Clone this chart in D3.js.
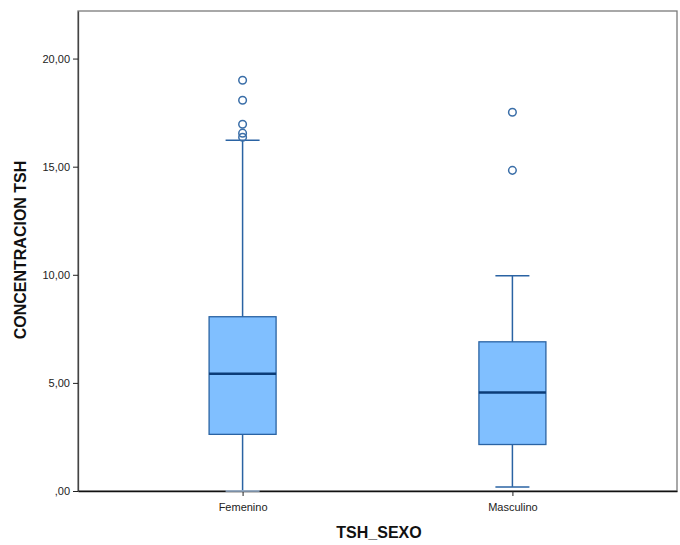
<!DOCTYPE html>
<html>
<head>
<meta charset="utf-8">
<script src="https://cdn.jsdelivr.net/npm/d3@7"></script>
<style>
  body { margin: 0; background: #fff; }
  text { font-family: Arial, "Liberation Sans", sans-serif; }
</style>
</head>
<body>
<svg width="680" height="545"></svg>
<script>
  // Data
  const categories = ["Femenino", "Masculino"];
  const q1 = [2.62, 2.15];
  const median = [5.42, 4.55];
  const q3 = [8.06, 6.90];
  const whiskerLow = [0.0, 0.19];
  const whiskerHigh = [16.22, 9.95];
  const outliers = [
    [19.0, 18.07, 16.96, 16.55, 16.36],
    [17.52, 14.83]
  ];
  const yTicks = [0, 5, 10, 15, 20];

  const width = 680, height = 545;
  const margin = {top: 11, right: 3, bottom: 54, left: 78};

  const svg = d3.select("svg");

  const x = d3.scalePoint()
      .domain(categories)
      .range([margin.left, width - margin.right])
      .padding(0.61);

  const y = d3.scaleLinear()
      .domain([0, 22.2])
      .range([height - margin.bottom, margin.top]);

  // Frame
  svg.append("rect")
      .attr("x", margin.left)
      .attr("y", margin.top)
      .attr("width", width - margin.right - margin.left)
      .attr("height", height - margin.bottom - margin.top)
      .attr("fill", "none")
      .attr("stroke", "#7a7a7a")
      .attr("stroke-width", 1.3);

  const fmt = d => d === 0 ? ",00" : d3.format(".2f")(d).replace(".", ",");

  // Y axis
  const yAxis = svg.append("g")
      .attr("transform", `translate(${margin.left},0)`)
      .call(d3.axisLeft(y).tickValues(yTicks).tickFormat(fmt).tickSize(5).tickSizeOuter(0));
  yAxis.select(".domain").attr("stroke", "#444").attr("stroke-width", 1.3);
  yAxis.selectAll(".tick line").attr("stroke", "#222");
  yAxis.selectAll(".tick text").attr("font-size", 11).attr("fill", "#222")
      .attr("font-family", "Arial, 'Liberation Sans', sans-serif");

  // X axis
  const xAxis = svg.append("g")
      .attr("transform", `translate(0,${height - margin.bottom})`)
      .call(d3.axisBottom(x).tickSize(5).tickSizeOuter(0));
  xAxis.select(".domain").attr("stroke", "#111").attr("stroke-width", 1.3);
  xAxis.selectAll(".tick line").attr("stroke", "#222");
  xAxis.selectAll(".tick text").attr("font-size", 11).attr("fill", "#222").attr("dy", "1.1em")
      .attr("font-family", "Arial, 'Liberation Sans', sans-serif");

  const boxW = 67;
  const capW = 34;
  const stroke = "#2a63a3";

  const g = svg.append("g")
    .selectAll("g")
    .data(categories)
    .join("g")
      .attr("transform", d => `translate(${x(d)},0)`);

  // Whisker lines
  g.append("line")
      .attr("y1", (d, i) => y(whiskerLow[i]))
      .attr("y2", (d, i) => y(whiskerHigh[i]))
      .attr("stroke", stroke).attr("stroke-width", 1.5);

  // Caps
  g.append("line")
      .attr("x1", -capW / 2).attr("x2", capW / 2)
      .attr("y1", (d, i) => y(whiskerHigh[i])).attr("y2", (d, i) => y(whiskerHigh[i]))
      .attr("stroke", stroke).attr("stroke-width", 1.5);
  g.append("line")
      .attr("x1", -capW / 2).attr("x2", capW / 2)
      .attr("y1", (d, i) => y(whiskerLow[i])).attr("y2", (d, i) => y(whiskerLow[i]))
      .attr("stroke", (d, i) => whiskerLow[i] === 0 ? "#9fb8d6" : stroke)
      .attr("stroke-width", 1.5);

  // Boxes
  g.append("rect")
      .attr("x", -boxW / 2)
      .attr("width", boxW)
      .attr("y", (d, i) => y(q3[i]))
      .attr("height", (d, i) => y(q1[i]) - y(q3[i]))
      .attr("fill", "#80bfff")
      .attr("stroke", stroke)
      .attr("stroke-width", 1.3);

  // Median
  g.append("line")
      .attr("x1", -boxW / 2).attr("x2", boxW / 2)
      .attr("y1", (d, i) => y(median[i])).attr("y2", (d, i) => y(median[i]))
      .attr("stroke", "#0b3c78").attr("stroke-width", 2.5);

  // Outliers
  g.selectAll("circle")
    .data((d, i) => outliers[i])
    .join("circle")
      .attr("cy", v => y(v))
      .attr("r", 3.8)
      .attr("fill", "#fff")
      .attr("fill-opacity", 0)
      .attr("stroke", "#3a6ea8")
      .attr("stroke-width", 1.5);

  // Axis titles
  svg.append("text")
      .attr("transform", "translate(26,250) rotate(-90)")
      .attr("text-anchor", "middle")
      .attr("font-size", 16)
      .attr("font-weight", "bold")
      .attr("fill", "#111")
      .text("CONCENTRACION TSH");

  svg.append("text")
      .attr("x", 379)
      .attr("y", 538)
      .attr("text-anchor", "middle")
      .attr("font-size", 16)
      .attr("font-weight", "bold")
      .attr("fill", "#111")
      .text("TSH_SEXO");
</script>
</body>
</html>
